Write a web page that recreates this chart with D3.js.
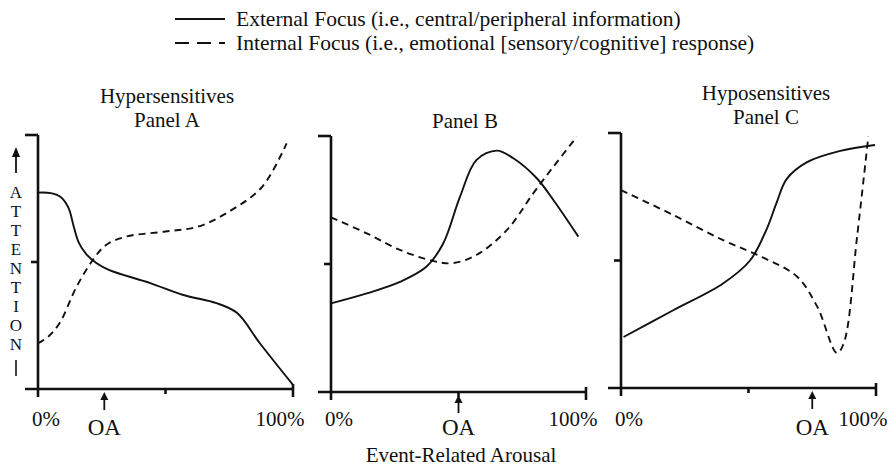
<!DOCTYPE html>
<html><head><meta charset="utf-8">
<script src="https://cdn.jsdelivr.net/npm/d3@7/dist/d3.min.js"></script>
<style>body{margin:0;background:#fff}svg{display:block}text{fill:#111}</style>
</head><body><svg id="c" width="888" height="469" font-family="'Liberation Serif', 'DejaVu Serif', serif"></svg>
<script>
// ---- data (x = % of event-related arousal, y = relative attention, 0..1) ----
const legendLabels = ["External Focus (i.e., central/peripheral information)",
                      "Internal Focus (i.e., emotional [sensory/cognitive] response)"];
const panelTitles = [["Hypersensitives","Panel A"],["Panel B"],["Hyposensitives","Panel C"]];
const xTickLabels = ["0%","100%"];
const oaLabel = "OA";
const oaPositions = [26, 50, 75];
const yLabelLetters = ["A","T","T","E","N","T","I","O","N"];
const xTitle = "Event-Related Arousal";

const hyperExternal = [[0,0.773],[5,0.771],[9,0.755],[12,0.712],[14,0.64],[16,0.576],[19,0.53],[23,0.495],[28,0.468],[44,0.417],[57,0.37],[70,0.338],[78,0.30],[87,0.18],[100,0.016]];
const hyperInternal = [[0,0.18],[4,0.206],[8.5,0.26],[15,0.40],[21.5,0.508],[26.7,0.567],[34.5,0.60],[50,0.62],[63,0.64],[76,0.705],[88,0.797],[97.5,0.967]];
const midExternal = [[0,0.346],[14,0.385],[27,0.43],[37.5,0.49],[44,0.58],[50.6,0.763],[57,0.906],[65,0.943],[71.5,0.913],[80.7,0.835],[87.2,0.75],[97,0.607]];
const midInternal = [[0,0.682],[14,0.62],[27,0.555],[40,0.512],[47.3,0.503],[57,0.535],[69,0.633],[79.3,0.776],[87.2,0.88],[96.4,0.997]];
const hypoExternal = [[1,0.20],[20.5,0.305],[40,0.41],[50.6,0.50],[57,0.62],[61,0.726],[65,0.82],[72.8,0.885],[86,0.93],[99.6,0.953]];
const hypoInternal = [[0,0.776],[20.6,0.678],[40,0.58],[56,0.51],[69,0.437],[76.9,0.32],[84.7,0.137],[87.5,0.18],[92.6,0.595],[97,0.987]];

const panelSeries = [[hyperExternal,hyperInternal],[midExternal,midInternal],[hypoExternal,hypoInternal]];

// ---- layout ----
const svg = d3.select("#c");
const frames = [
  {x0:38, x1:293, yb:389, yt:135},
  {x0:331, x1:586, yb:392, yt:136},
  {x0:621, x1:876, yb:388, yt:133}
];
const titlePos = [{cx:167, ys:[103,127]}, {cx:465, ys:[128]}, {cx:766, ys:[100,124]}];

// legend
const lg = svg.append("g");
[0,1].forEach(i=>{
  const y = 19 + i*24;
  lg.append("line").attr("x1",175).attr("x2",225).attr("y1",y).attr("y2",y)
    .attr("stroke","#111").attr("stroke-width",2.2)
    .attr("stroke-dasharray", i ? "14,8" : null);
  lg.append("text").attr("x",236).attr("y",y+7).attr("font-size",21.5).text(legendLabels[i]);
});

frames.forEach((f,pi)=>{
  const g = svg.append("g");
  const x = d3.scaleLinear().domain([0,100]).range([f.x0,f.x1]);
  const y = d3.scaleLinear().domain([0,1]).range([f.yb,f.yt]);
  const ax = "#111";
  // axes
  g.append("line").attr("x1",x(0)-13).attr("x2",x(100)).attr("y1",y(0)).attr("y2",y(0)).attr("stroke",ax).attr("stroke-width",2.6);
  g.append("line").attr("x1",x(0)).attr("x2",x(0)).attr("y1",y(1)).attr("y2",y(0)+8).attr("stroke",ax).attr("stroke-width",2.6);
  // y ticks
  g.append("line").attr("x1",x(0)-13).attr("x2",x(0)).attr("y1",y(1)).attr("y2",y(1)).attr("stroke",ax).attr("stroke-width",2.6);
  g.append("line").attr("x1",x(0)-7).attr("x2",x(0)).attr("y1",y(0.5)).attr("y2",y(0.5)).attr("stroke",ax).attr("stroke-width",2.6);
  // x ticks
  g.append("line").attr("x1",x(100)).attr("x2",x(100)).attr("y1",y(0)-5).attr("y2",y(0)+8).attr("stroke",ax).attr("stroke-width",2.6);
  g.append("line").attr("x1",x(50)).attr("x2",x(50)).attr("y1",y(0)).attr("y2",y(0)+5).attr("stroke",ax).attr("stroke-width",2.6);
  // tick labels
  g.append("text").attr("x",x(0)+8).attr("y",426).attr("text-anchor","middle").attr("font-size",21).text(xTickLabels[0]);
  g.append("text").attr("x",x(100)-13).attr("y",426).attr("text-anchor","middle").attr("font-size",21).text(xTickLabels[1]);
  // OA arrow
  const ox = x(oaPositions[pi]);
  g.append("line").attr("x1",ox).attr("x2",ox).attr("y1",y(0)+9).attr("y2",y(0)+21).attr("stroke",ax).attr("stroke-width",1.8);
  g.append("path").attr("d",`M${ox},${y(0)+3}L${ox-4},${y(0)+11}L${ox+4},${y(0)+11}Z`).attr("fill",ax);
  g.append("text").attr("x",ox).attr("y",435).attr("text-anchor","middle").attr("font-size",23).text(oaLabel);
  // titles
  panelTitles[pi].forEach((t,ti)=>{
    g.append("text").attr("x",titlePos[pi].cx).attr("y",titlePos[pi].ys[ti]).attr("text-anchor","middle").attr("font-size",21).text(t);
  });
  // curves
  const line = d3.line().x(d=>x(d[0])).y(d=>y(d[1])).curve(d3.curveCatmullRom.alpha(0.5));
  panelSeries[pi].forEach((s,si)=>{
    g.append("path").datum(s).attr("d",line).attr("fill","none").attr("stroke","#111")
      .attr("stroke-width",1.9).attr("stroke-dasharray", si ? "7,5" : null);
  });
});

// y-axis label
const yl = svg.append("g");
yl.append("line").attr("x1",16).attr("x2",16).attr("y1",155).attr("y2",173).attr("stroke","#111").attr("stroke-width",1.8);
yl.append("path").attr("d","M16,147L12,157L20,157Z").attr("fill","#111");
yLabelLetters.forEach((L,i)=>{
  yl.append("text").attr("x",16).attr("y",198+i*19).attr("text-anchor","middle").attr("font-size",17).text(L);
});
yl.append("line").attr("x1",16).attr("x2",16).attr("y1",360).attr("y2",376).attr("stroke","#111").attr("stroke-width",1.6);

svg.append("text").attr("x",461).attr("y",462).attr("text-anchor","middle").attr("font-size",21).text(xTitle);
</script></body></html>
